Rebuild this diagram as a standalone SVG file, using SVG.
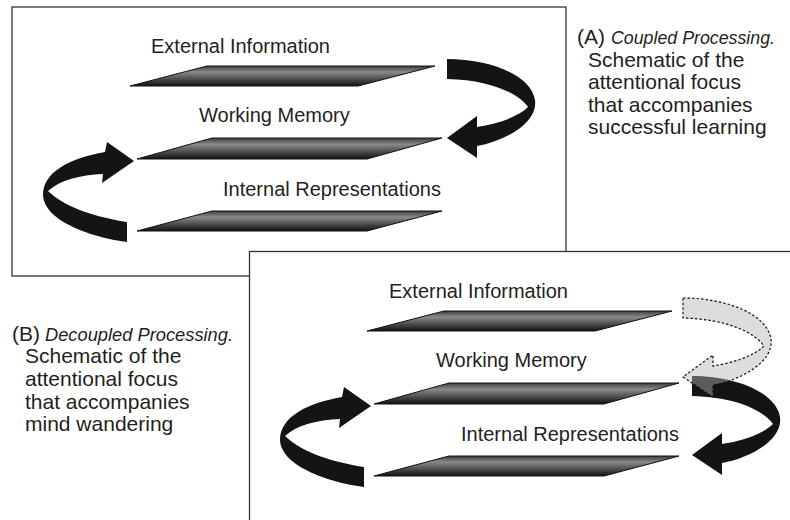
<svg xmlns="http://www.w3.org/2000/svg" xmlns:xlink="http://www.w3.org/1999/xlink" width="790" height="520" viewBox="0 0 790 520">
<style>
.frame{fill:#fff;stroke:#333;stroke-width:1.3}
.bar{fill:url(#barGrad);stroke:#111;stroke-width:1}
.lbl{font-family:"Liberation Sans",Arial,sans-serif;font-size:20px;fill:#231f20}
.cap{font-family:"Liberation Sans",Arial,sans-serif;font-size:21px;fill:#231f20}
.it{font-style:italic;font-size:19px}
.arrow{fill:#141414}
.ghost{fill:#b4b4b4;fill-opacity:.45;stroke:#111;stroke-width:1.2;stroke-dasharray:2.5 2}
</style>
<defs>
<linearGradient id="barGrad" x1="0" y1="0" x2="0" y2="1">
<stop offset="0" stop-color="#3c3c3c"/>
<stop offset="0.3" stop-color="#8a8a8a"/>
<stop offset="1" stop-color="#121212"/>
</linearGradient>
<path id="arrowRight" d="M447,59 C490,59 531,75 535,100 C538,123 505,141 477,146 L477,158 L447,138 L477,116 L477,127 C497,124 518,117 528,107 C518,93 490,80 447,79 Z"/>
<path id="arrowLeft" d="M127,222 C100,218 65,208 48,191 C60,180 80,175 103,174 L102,183 L134,161 L107,142 L105,152 C70,158 43,172 43,195 C44,222 95,238 127,242 Z"/>
</defs>

<g id="frames">
<rect class="frame" x="12" y="7" width="554" height="269"/>
<rect class="frame" x="249.5" y="251.5" width="600" height="300"/>
</g>

<g id="panelA">
<g id="A-external">
<polygon class="bar" points="130,86 207,66 435,66 358,86"/>
<text class="lbl" x="151" y="53">External Information</text>
</g>
<g id="A-working">
<polygon class="bar" points="137,159 212,138 442,138 367,159"/>
<text class="lbl" x="199" y="122">Working Memory</text>
</g>
<g id="A-internal">
<polygon class="bar" points="137,231 212,211 442,211 367,231"/>
<text class="lbl" x="223" y="196">Internal Representations</text>
</g>
</g>

<g id="panelB">
<g id="B-external">
<polygon class="bar" points="367,331 444,311 672,311 595,331"/>
<text class="lbl" x="389" y="298">External Information</text>
</g>
<g id="B-working">
<polygon class="bar" points="374,404 449,383 679,383 604,404"/>
<text class="lbl" x="436" y="367">Working Memory</text>
</g>
<g id="B-internal">
<polygon class="bar" points="374,476 449,456 679,456 604,476"/>
<text class="lbl" x="461" y="441">Internal Representations</text>
</g>
</g>

<g id="connectors">
<use xlink:href="#arrowRight" href="#arrowRight" class="arrow"/>
<use xlink:href="#arrowLeft" href="#arrowLeft" class="arrow"/>
<use xlink:href="#arrowLeft" href="#arrowLeft" class="arrow" transform="translate(237,245)"/>
<use xlink:href="#arrowRight" href="#arrowRight" class="arrow" transform="translate(245,317)"/>
<use xlink:href="#arrowRight" href="#arrowRight" class="ghost" transform="translate(236,239)"/>
</g>

<g id="captionA">
<text class="cap" x="577" y="44">(A)</text>
<text class="cap it" x="611" y="44" textLength="164" lengthAdjust="spacingAndGlyphs">Coupled Processing.</text>
<text class="cap" x="588" y="67">Schematic of the</text>
<text class="cap" x="588" y="89">attentional focus</text>
<text class="cap" x="588" y="112">that accompanies</text>
<text class="cap" x="588" y="134">successful learning</text>
</g>

<g id="captionB">
<text class="cap" x="12" y="341">(B)</text>
<text class="cap it" x="45" y="341" textLength="188" lengthAdjust="spacingAndGlyphs">Decoupled Processing.</text>
<text class="cap" x="25" y="363">Schematic of the</text>
<text class="cap" x="25" y="386">attentional focus</text>
<text class="cap" x="25" y="409">that accompanies</text>
<text class="cap" x="25" y="431">mind wandering</text>
</g>
</svg>
